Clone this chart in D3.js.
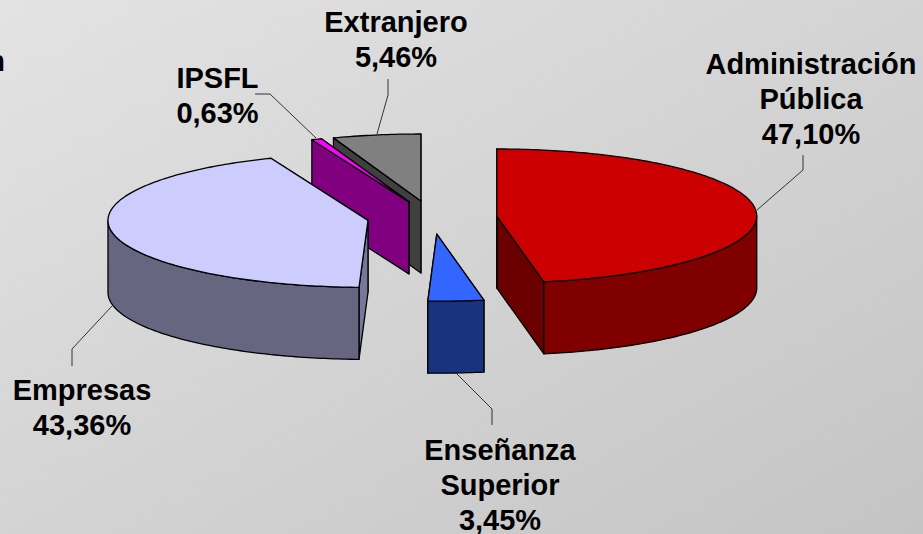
<!DOCTYPE html>
<html>
<head>
<meta charset="utf-8">
<script src="https://d3js.org/d3.v7.min.js"></script>
<style>
html, body { margin: 0; padding: 0; overflow: hidden; }
text { font-family: "Liberation Sans", Arial, sans-serif; font-weight: bold; font-size: 29px; fill: #000; }
</style>
</head>
<body>
<div id="chart"></div>
<script>
// values as printed on the chart, clockwise from 12 o'clock
var categories = ["Administración Pública", "Enseñanza Superior", "Empresas", "IPSFL", "Extranjero"];
var values = [47.10, 3.45, 43.36, 0.63, 5.46];
var valueLabels = ["47,10%", "3,45%", "43,36%", "0,63%", "5,46%"];
var labelLines = [["Administración", "Pública"], ["Enseñanza", "Superior"], ["Empresas"], ["IPSFL"], ["Extranjero"]];

var topColors = ["#cc0000", "#3366ff", "#ccccff", "#ff00ff", "#808080"];
var wallColors = ["#800000", "#19337f", "#666680", "#800080", "#404040"];
var innerColors = ["#6b0000", "#19337f", "#777799", "#800080", "#404040"];

var width = 923, height = 534;
var cx = 432, cy = 217.5, rx = 260, ry = 67, depth = 72, explode = 65;

var svg = d3.select("#chart").append("svg").attr("width", width).attr("height", height);

var grad = svg.append("defs").append("linearGradient").attr("id", "bg")
    .attr("x1", 0).attr("y1", 0).attr("x2", 1).attr("y2", 1);
grad.append("stop").attr("offset", "0%").attr("stop-color", "#e3e3e3");
grad.append("stop").attr("offset", "100%").attr("stop-color", "#c4c4c4");

svg.append("rect").attr("width", width).attr("height", height).attr("fill", "url(#bg)");

var slices = d3.pie().sort(null)(values).map(function(d, i) {
    var mid = (d.startAngle + d.endAngle) / 2;
    return {
        i: i,
        a0: d.startAngle,
        a1: d.endAngle,
        ax: cx + explode * Math.sin(mid),
        ay: cy - explode * (ry / rx) * Math.cos(mid)
    };
});

function rim(s, a) {
    return [s.ax + rx * Math.sin(a), s.ay - ry * Math.cos(a)];
}

function arcPoints(s, a0, a1, dy) {
    var n = Math.max(2, Math.ceil((a1 - a0) * 60));
    return d3.range(n + 1).map(function(k) {
        var p = rim(s, a0 + (a1 - a0) * k / n);
        return [p[0], p[1] + dy];
    });
}

var line = d3.line();

function poly(pts, fill) {
    svg.append("path")
        .attr("d", line(pts) + "Z")
        .attr("fill", fill)
        .attr("stroke", "#000")
        .attr("stroke-width", 1.3)
        .attr("stroke-linejoin", "round");
}

// back slices first so the front ones cover them
[4, 3, 2, 1, 0].forEach(function(i) {
    var s = slices[i];
    var apex = [s.ax, s.ay];
    var apexLow = [s.ax, s.ay + depth];
    var p0 = rim(s, s.a0), p1 = rim(s, s.a1);

    // flat cut walls
    poly([apex, p1, [p1[0], p1[1] + depth], apexLow], innerColors[i]);
    poly([apex, p0, [p0[0], p0[1] + depth], apexLow], innerColors[i]);

    // outer wall, only the part facing the viewer
    var from = Math.max(s.a0, Math.PI / 2), to = Math.min(s.a1, Math.PI * 1.5);
    if (to > from) {
        var upper = arcPoints(s, from, to, 0);
        var lower = arcPoints(s, from, to, depth).reverse();
        poly(upper.concat(lower), wallColors[i]);
    }

    // top face
    poly([apex].concat(arcPoints(s, s.a0, s.a1, 0)), topColors[i]);
});

// leader lines
var leaderPts = [
    [[757, 210], [803, 170], [803, 155]],
    [[456, 373], [492, 409], [492, 425]],
    [[112, 306], [72, 349], [72, 366]],
    [[316, 138], [270, 94], [255, 94]],
    [[377, 134], [388, 95], [388, 79]]
];
leaderPts.forEach(function(pts) {
    svg.append("path").attr("d", line(pts)).attr("fill", "none")
        .attr("stroke", "#333").attr("stroke-width", 1);
});

// label text
var labelX = [811, 500, 82, 217.5, 396];
var labelY = [74, 460, 400, 88, 32];
var lineGap = 35;
categories.forEach(function(c, i) {
    labelLines[i].concat([valueLabels[i]]).forEach(function(t, k) {
        svg.append("text")
            .attr("x", labelX[i])
            .attr("y", labelY[i] + k * lineGap)
            .attr("text-anchor", "middle")
            .text(t);
    });
});

// cut-off text at the left edge
svg.append("text").attr("x", 5).attr("y", 71).attr("text-anchor", "end").text("n");
</script>
</body>
</html>
